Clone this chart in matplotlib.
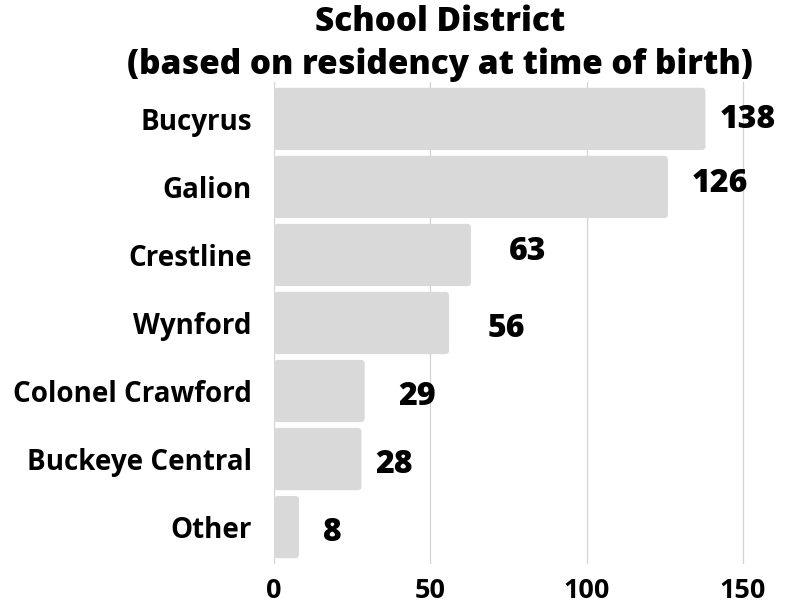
import matplotlib
matplotlib.use("Agg")
import matplotlib.pyplot as plt
from matplotlib.patches import FancyBboxPatch

categories = ["Bucyrus", "Galion", "Crestline", "Wynford", "Colonel Crawford", "Buckeye Central", "Other"]
values = [138, 126, 63, 56, 29, 28, 8]
xticks = [0, 50, 100, 150]
title_lines = ["School District", "(based on residency at time of birth)"]

# label nudges (points) to mimic original placement
label_dx = [10, 17, 27, 28, 24, 10, 17]
label_dy = [-1, 2, 2, -4, -4, -4, -4]

W, H = 798, 613
fig = plt.figure(figsize=(W / 100, H / 100), dpi=100)
XMAX = 151
ax = fig.add_axes([274 / W, 1 - 564 / H, (469 * XMAX / 150) / W, (564 - 82) / H])

y = list(range(len(categories)))
bars = ax.barh(y, values, height=0.915, color="#d9d9d9", zorder=2)
ax.set_ylim(len(categories) - 0.5 + 0.0425, -0.5 - 0.0425)
ax.set_xlim(0, XMAX)

# rounded corners
px_per_x = 469 / 150
px_per_y = 482 / (len(categories) + 0.085)
r_x = 4 / px_per_x
r_y = 4 / px_per_y
for b in bars:
    x0, y0, w, h = b.get_x(), b.get_y(), b.get_width(), b.get_height()
    b.set_visible(False)
    p = FancyBboxPatch((x0, y0), w, h, boxstyle=f"round,pad=0,rounding_size={r_x}",
                       mutation_aspect=r_y / r_x, facecolor="#d9d9d9", edgecolor="none", zorder=2)
    ax.add_patch(p)

ax.set_xticks(xticks)
ax.set_xticklabels([str(t) for t in xticks], fontfamily="Open Sans", fontweight="bold", fontsize=19.5)
ax.set_yticks(y)
ax.set_yticklabels(categories, fontfamily="Open Sans", fontweight="bold", fontsize=20)
ax.tick_params(axis="x", length=0, pad=10)
ax.tick_params(axis="y", length=0, pad=16)
ax.grid(axis="x", color="#d3d3d3", linewidth=0.9, zorder=0)
for s in ax.spines.values():
    s.set_visible(False)

for i, v in enumerate(values):
    ax.annotate(str(v), xy=(v, i), xytext=(label_dx[i], label_dy[i]), textcoords="offset points",
                ha="left", va="center", fontfamily="Open Sans", fontweight="heavy", fontsize=23,
                color="black", annotation_clip=False)

fig.text(440 / W, 1 - 22 / H, title_lines[0], ha="center", va="center",
         fontfamily="Open Sans", fontweight="heavy", fontsize=24)
fig.text(440 / W, 1 - 65 / H, title_lines[1], ha="center", va="center",
         fontfamily="Open Sans", fontweight="heavy", fontsize=24)

fig.savefig("out.png", dpi=100)
